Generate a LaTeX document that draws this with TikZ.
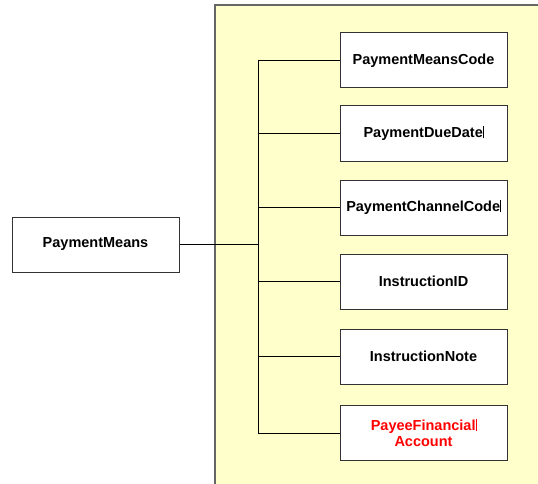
\documentclass[tikz,border=0pt]{standalone}
\usepackage{fontspec}
\setmainfont{Liberation Sans}
\begin{document}
\begin{tikzpicture}[x=1pt,y=-1pt,
  box/.style={draw=black!80,line width=1pt,fill=white,minimum width=167pt,minimum height=55pt,inner sep=0pt,
    font=\fontsize{14.5}{16}\selectfont\bfseries,align=center},
  link/.style={draw=black,line width=0.8pt}]
\useasboundingbox (0,0) rectangle (538,484);
\fill[fill={rgb,255:red,255;green,255;blue,204}] (215,5) rectangle (540,486);
\draw[line width=1.2pt,black!60] (540,5) -- (215,5) -- (215,486);
\node[box] (pm) at (95.5,244.5) {PaymentMeans};
\node[box] (b1) at (423.5,60.5) {PaymentMeansCode};
\node[box] (b2) at (423.5,133.5) {PaymentDueDate\rule[-1pt]{0.6pt}{12pt}};
\node[box] (b3) at (423.5,207.5) {PaymentChannelCode\rule[-1pt]{0.6pt}{12pt}};
\node[box] (b4) at (423.5,281.5) {InstructionID};
\node[box] (b5) at (423.5,356.5) {InstructionNote};
\node[box,text=red] (b6) at (423.5,433) {PayeeFinancial\rule[-1pt]{0.6pt}{12pt}\\Account};
\coordinate (t1) at (258,60.5);
\coordinate (t6) at (258,433);
\coordinate (tm) at (258,244.5);
\draw[link] (t1) -- (t6);
\draw[link] (pm.east) -- (tm);
\foreach \i in {1,...,6} {\draw[link] (b\i.west) -- (b\i.west -| t1);}
\end{tikzpicture}
\end{document}
